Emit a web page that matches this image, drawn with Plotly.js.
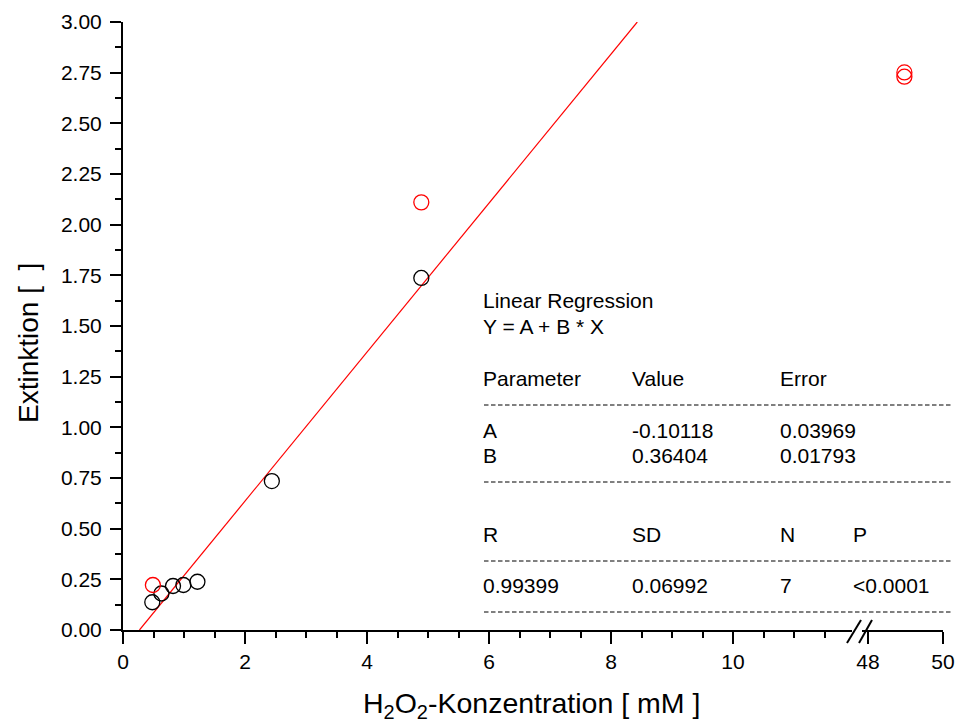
<!DOCTYPE html>
<html>
<head>
<meta charset="utf-8">
<script src="https://cdn.plot.ly/plotly-3.0.1.min.js"></script>
<style>html,body{margin:0;padding:0;background:#fff;}#chart{width:962px;height:725px;}</style>
</head>
<body>
<div id="chart"></div>
<script>
// ---- data ----
var blackX = [0.48, 0.63, 0.82, 0.99, 1.22, 2.44, 4.89];
var blackY = [0.137, 0.18, 0.217, 0.222, 0.238, 0.735, 1.737];
var redLeftX = [0.49, 4.89];
var redLeftY = [0.222, 2.11];
var redRightX = [48.97, 48.97];
var redRightY = [2.751, 2.730];
var fitX = [0.27, 8.43];
var fitY = [0.0, 3.0];

var xLeftTicks = [0, 2, 4, 6, 8, 10];
var xRightTicks = [48, 50];

var regTitle = ["Linear Regression", "Y = A + B * X"];
var headRow1 = ["Parameter", "Value", "Error"];
var rowA = ["A", "-0.10118", "0.03969"];
var rowB = ["B", "0.36404", "0.01793"];
var headRow2 = ["R", "SD", "N", "P"];
var statRow = ["0.99399", "0.06992", "7", "<0.0001"];

// ---- layout helpers (pixel -> paper) ----
var L = 123, R = 943, T = 22, B = 630;
function px(x){ return (x - L) / (R - L); }
function py(y){ return (B - y) / (B - T); }

var font = "Liberation Sans, Arial, sans-serif";

var traces = [
  {x: fitX, y: fitY, xaxis: 'x', yaxis: 'y', mode: 'lines',
   line: {color: '#ff0000', width: 1.2}, hoverinfo: 'skip'},
  {x: blackX, y: blackY, xaxis: 'x', yaxis: 'y', mode: 'markers',
   marker: {symbol: 'circle-open', size: 15, color: '#000000', line: {width: 1.3, color: '#000000'}}},
  {x: redLeftX, y: redLeftY, xaxis: 'x', yaxis: 'y', mode: 'markers',
   marker: {symbol: 'circle-open', size: 15, color: '#ff0000', line: {width: 1.3, color: '#ff0000'}}},
  {x: redRightX, y: redRightY, xaxis: 'x2', yaxis: 'y', mode: 'markers',
   marker: {symbol: 'circle-open', size: 15, color: '#ff0000', line: {width: 1.3, color: '#ff0000'}}}
];

var cols = [481, 630, 778, 851];
var ann = [];
function addText(t, xpx, ypx){
  ann.push({text: t, x: px(xpx), y: py(ypx), xref: 'paper', yref: 'paper',
    xanchor: 'left', yanchor: 'middle', showarrow: false,
    font: {family: font, size: 21, color: '#000'}});
}
addText(regTitle[0], cols[0], 300.5);
addText(regTitle[1], cols[0], 326.5);
headRow1.forEach(function(t,i){ addText(t, cols[i], 378); });
rowA.forEach(function(t,i){ addText(t, cols[i], 430); });
rowB.forEach(function(t,i){ addText(t, cols[i], 455.5); });
headRow2.forEach(function(t,i){ addText(t, cols[i], 534); });
statRow.forEach(function(t,i){ addText(t, cols[i], 585); });

// axis titles
ann.push({text: 'H<sub>2</sub>O<sub>2</sub>-Konzentration [ mM ]', x: px(531), y: py(705),
  xref: 'paper', yref: 'paper', xanchor: 'center', yanchor: 'middle', showarrow: false,
  font: {family: font, size: 28.5, color: '#000'}});
ann.push({text: 'Extinktion [&nbsp; ]', x: px(28), y: py(343), textangle: -90,
  xref: 'paper', yref: 'paper', xanchor: 'center', yanchor: 'middle', showarrow: false,
  font: {family: font, size: 28, color: '#000'}});

var shapes = [];
[405, 482, 561, 612].forEach(function(yy){
  shapes.push({type: 'line', xref: 'paper', yref: 'paper', x0: px(484), x1: px(951),
    y0: py(yy), y1: py(yy), line: {color: '#000', width: 1, dash: '4.5px,2.5px'}});
});
// axis break marks
shapes.push({type: 'line', xref: 'paper', yref: 'paper', x0: px(847), y0: py(643), x1: px(861), y1: py(620),
  line: {color: '#000', width: 2}});
shapes.push({type: 'line', xref: 'paper', yref: 'paper', x0: px(859), y0: py(643), x1: px(872), y1: py(620),
  line: {color: '#000', width: 2}});

var axCommon = {
  showline: true, linewidth: 2, linecolor: '#000', showgrid: false, zeroline: false,
  ticks: 'outside', ticklen: 12, tickwidth: 2, tickcolor: '#000',
  tickfont: {family: font, size: 21, color: '#000'}
};

var layout = {
  width: 962, height: 725,
  margin: {l: L, r: 962 - R, t: T, b: 725 - B},
  paper_bgcolor: '#fff', plot_bgcolor: '#fff',
  showlegend: false,
  xaxis: Object.assign({}, axCommon, {
    domain: [0, px(852)], range: [0, 11.95], tickmode: 'array', tickvals: xLeftTicks,
    anchor: 'y',
    minor: {dtick: 0.5, tick0: 0, ticks: 'outside', ticklen: 6, tickwidth: 2, tickcolor: '#000', showgrid: false}
  }),
  xaxis2: Object.assign({}, axCommon, {
    domain: [px(862.4), 1], range: [47.85, 50], tickmode: 'array', tickvals: xRightTicks,
    anchor: 'y'
  }),
  yaxis: Object.assign({}, axCommon, {
    range: [0, 3], tickmode: 'linear', tick0: 0, dtick: 0.25, tickformat: '.2f',
    ticklen: 11, anchor: 'x', ticklabelstandoff: 4,
    minor: {dtick: 0.125, tick0: 0, ticks: 'outside', ticklen: 6, tickwidth: 2, tickcolor: '#000', showgrid: false}
  }),
  annotations: ann,
  shapes: shapes
};

Plotly.newPlot('chart', traces, layout, {displayModeBar: false, staticPlot: true});
</script>
</body>
</html>
